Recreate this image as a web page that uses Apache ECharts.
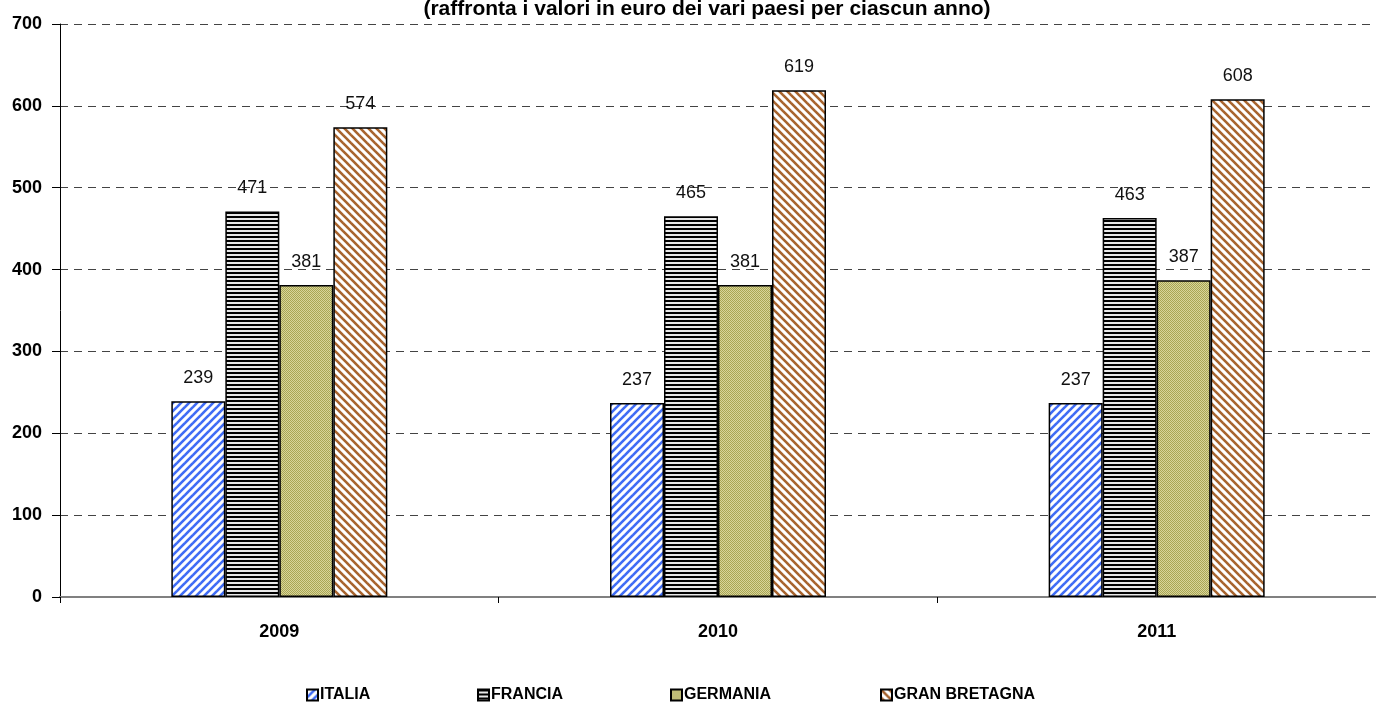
<!DOCTYPE html>
<html>
<head>
<meta charset="utf-8">
<script src="https://cdn.jsdelivr.net/npm/echarts@6/dist/echarts.min.js"></script>
<style>
  html, body { margin: 0; padding: 0; background: #fff; }
  #chart { width: 1376px; height: 704px; }
</style>
</head>
<body>
<div id="chart"></div>
<script>
const years = ['2009', '2010', '2011']
const italia = [239, 237, 237]
const francia = [471, 465, 463]
const germania = [381, 381, 387]
const granBretagna = [574, 619, 608]
const countries = ['ITALIA', 'FRANCIA', 'GERMANIA', 'GRAN BRETAGNA']

const narrow = "'Liberation Sans Narrow', 'Arial Narrow', 'Liberation Sans', sans-serif"

// canvas tiles used as bar fills
const makeTile = (size, draw) => {
  const c = document.createElement('canvas')
  c.width = size
  c.height = size
  const ctx = c.getContext('2d')
  draw(ctx, size)
  return { image: c, repeat: 'repeat' }
}

const diagonal = (color, up) => makeTile(8, (ctx, s) => {
  ctx.fillStyle = '#fff'
  ctx.fillRect(0, 0, s, s)
  ctx.strokeStyle = color
  ctx.lineWidth = 2.6
  const seg = (x1, y1, x2, y2) => { ctx.beginPath(); ctx.moveTo(x1, y1); ctx.lineTo(x2, y2); ctx.stroke() }
  if (up) {
    seg(-2, s + 2, s + 2, -2)
    seg(-2, 2, 2, -2)
    seg(s - 2, s + 2, s + 2, s - 2)
  } else {
    seg(-2, -2, s + 2, s + 2)
    seg(s - 2, -2, s + 2, 2)
    seg(-2, s - 2, 2, s + 2)
  }
})

const horizontal = makeTile(4, (ctx, s) => {
  ctx.fillStyle = '#e8e8e8'
  ctx.fillRect(0, 0, s, s)
  ctx.fillStyle = '#000'
  ctx.fillRect(0, 0, s, 2)
})

const dotted = makeTile(2, (ctx) => {
  ctx.fillStyle = '#d8d59a'
  ctx.fillRect(0, 0, 2, 2)
  ctx.fillStyle = '#a9a654'
  ctx.fillRect(0, 0, 1, 1)
  ctx.fillRect(1, 1, 1, 1)
})

const fills = [diagonal('#3f6cf5', true), horizontal, dotted, diagonal('#a8642e', false)]
const values = [italia, francia, germania, granBretagna]
const legendLeft = [301, 472, 665, 875]

const chart = echarts.init(document.getElementById('chart'))

chart.setOption({
  animation: false,
  title: {
    text: '(raffronta i valori in euro dei vari paesi per ciascun anno)',
    left: 702,
    top: -6,
    textAlign: 'center',
    textStyle: { fontFamily: narrow, fontSize: 21, fontWeight: 'bold', color: '#000' },
  },
  legend: countries.map((name, i) => ({
    left: legendLeft[i],
    top: 682,
    data: [name],
    icon: 'rect',
    itemWidth: 11,
    itemHeight: 11,
    textStyle: { fontFamily: narrow, fontSize: 16, fontWeight: 'bold', color: '#000', padding: [0, 0, 0, -3] },
  })),
  grid: { left: 60, right: 0, top: 24, bottom: 107 },
  xAxis: {
    type: 'category',
    data: years,
    axisLine: { lineStyle: { color: '#808080', width: 2 } },
    axisTick: { show: true, length: 6, lineStyle: { color: '#000', width: 1 } },
    axisLabel: { margin: 26, fontFamily: narrow, fontSize: 18, fontWeight: 'bold', color: '#000' },
  },
  yAxis: {
    type: 'value',
    min: 0,
    max: 700,
    interval: 100,
    axisLine: { show: true, lineStyle: { color: '#000', width: 1 } },
    axisTick: { show: true, length: 8, lineStyle: { color: '#000' } },
    axisLabel: { margin: 18, fontFamily: narrow, fontSize: 18, fontWeight: 'bold', color: '#000' },
    splitLine: { show: true, lineStyle: { color: '#444', type: [8, 6], width: 1 } },
  },
  series: countries.map((name, i) => ({
    name,
    type: 'bar',
    data: values[i],
    barWidth: 54,
    barGap: '0%',
    itemStyle: { color: fills[i], borderColor: '#000', borderWidth: 1.5 },
    label: {
      show: true,
      position: 'top',
      distance: 14,
      fontFamily: narrow,
      fontSize: 18,
      color: '#111',
    },
  })),
})
</script>
</body>
</html>
